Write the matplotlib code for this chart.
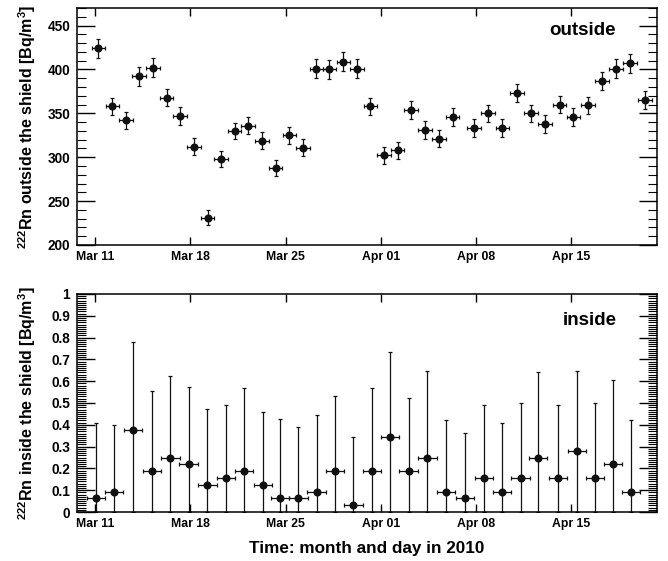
import numpy as np
import matplotlib
matplotlib.use("Agg")
import matplotlib.pyplot as plt
import matplotlib.dates as mdates
from matplotlib.ticker import MultipleLocator, FuncFormatter
from datetime import datetime

plt.rcParams['font.family'] = ['Liberation Sans', 'DejaVu Sans']
plt.rcParams['font.weight'] = 'bold'
plt.rcParams['mathtext.fontset'] = 'custom'
plt.rcParams['mathtext.rm'] = 'Liberation Sans:bold'
plt.rcParams['mathtext.bf'] = 'Liberation Sans:bold'
plt.rcParams['mathtext.default'] = 'bf'

# ---------------- data ----------------
# outside the shield: measurement times (days after Mar 11 2010, 00:00)
out_days = [0.24, 1.27, 2.25, 3.22, 4.25, 5.25, 6.24, 7.27, 8.27, 9.27,
            10.25, 11.25, 12.25, 13.27, 14.28, 15.28, 16.27, 17.22, 18.25, 19.23,
            20.23, 21.23, 22.23, 23.23, 24.23, 25.26, 26.28, 27.84, 28.87, 29.94,
            30.99, 32.06, 33.07, 34.14, 35.16, 36.22, 37.24, 38.29, 39.31, 40.41]
out_vals = [424, 358, 342, 392, 402, 368, 347, 312, 231, 298,
            330, 336, 319, 288, 325, 311, 401, 400, 409, 401,
            358, 302, 308, 354, 331, 321, 346, 333, 350, 333,
            373, 350, 338, 360, 346, 359, 387, 401, 407, 365]
out_errs = [11, 10, 10, 10.5, 10.5, 10, 10, 9.5, 8.5, 9.5,
            9.5, 10, 9.5, 9, 9.5, 9.5, 10.5, 10.5, 11, 10.5,
            10, 9.5, 9.5, 10, 10, 9.5, 10, 10, 10, 10,
            10, 10, 10, 10, 10, 10, 10.5, 10.5, 11, 10]
out_xerr = 0.5

# inside the shield
in_days = [0.05, 1.40, 2.80, 4.18, 5.53, 6.88, 8.25, 9.61, 10.96, 12.34,
           13.59, 14.94, 16.29, 17.64, 18.99, 20.34, 21.69, 23.04, 24.42, 25.79,
           27.19, 28.57, 29.92, 31.27, 32.57, 34.04, 35.42, 36.73, 38.05, 39.40]
in_vals = [0.0625, 0.094, 0.375, 0.1875, 0.25, 0.219, 0.125, 0.156, 0.1875, 0.125,
           0.0625, 0.0625, 0.094, 0.1875, 0.031, 0.1875, 0.344, 0.1875, 0.25, 0.094,
           0.0625, 0.156, 0.094, 0.156, 0.25, 0.156, 0.281, 0.156, 0.219, 0.094]
in_upper = [0.408, 0.397, 0.780, 0.557, 0.624, 0.575, 0.473, 0.490, 0.568, 0.461,
            0.426, 0.388, 0.444, 0.533, 0.346, 0.568, 0.733, 0.522, 0.646, 0.420,
            0.362, 0.493, 0.408, 0.502, 0.640, 0.493, 0.647, 0.502, 0.607, 0.421]
in_xerr = 0.68

tick_dates = ["2010-03-11", "2010-03-18", "2010-03-25", "2010-04-01", "2010-04-08", "2010-04-15"]
tick_labels = ["Mar 11", "Mar 18", "Mar 25", "Apr 01", "Apr 08", "Apr 15"]

# ---------------- plotting ----------------
base = mdates.date2num(datetime(2010, 3, 11))
ticks = [mdates.date2num(datetime.strptime(d, "%Y-%m-%d")) for d in tick_dates]
xlim = (base - 1.33, base + 41.3)

fig = plt.figure(figsize=(6.68, 5.61), dpi=100)
ax1 = fig.add_axes([77/668, 1-245/561, 580/668, 237/561])
ax2 = fig.add_axes([77/668, 1-512/561, 580/668, 218/561])

col = '#111111'
ekw = dict(fmt='o', color=col, ms=4.8, elinewidth=0.9, capsize=1.3, capthick=0.9)

ax1.errorbar(base + np.array(out_days), out_vals, xerr=out_xerr, yerr=out_errs, **ekw)

iv = np.array(in_vals)
iu = np.array(in_upper)
ax2.errorbar(base + np.array(in_days), iv, xerr=in_xerr,
             yerr=[iv, iu - iv], **ekw)

ax1.set_ylim(200, 470)
ax2.set_ylim(0, 1)
ax1.yaxis.set_major_locator(MultipleLocator(50))
ax1.yaxis.set_minor_locator(MultipleLocator(10))
ax2.yaxis.set_major_locator(MultipleLocator(0.1))
ax2.yaxis.set_minor_locator(MultipleLocator(0.01))
ax2.yaxis.set_major_formatter(FuncFormatter(lambda v, p: f"{v:g}"))

for ax in (ax1, ax2):
    ax.set_xlim(*xlim)
    ax.set_xticks(ticks)
    ax.set_xticklabels(tick_labels)
    ax.tick_params(axis='x', which='major', direction='in', top=True, bottom=True,
                   length=6, width=1.0, labelsize=8.8, pad=4)
    ax.tick_params(axis='y', which='major', direction='in', left=True, right=True,
                   length=13, width=1.0, labelsize=9.8, pad=5)
    ax.tick_params(axis='y', which='minor', direction='in', left=True, right=True,
                   length=6.5, width=0.8)
    for s in ax.spines.values():
        s.set_linewidth(1.1)
    for lab in ax.get_xticklabels() + ax.get_yticklabels():
        lab.set_fontweight('bold')

ax1.text(0.929, 0.903, "outside", transform=ax1.transAxes, ha='right', va='center',
         fontsize=13.5, fontweight='bold')
ax2.text(0.931, 0.877, "inside", transform=ax2.transAxes, ha='right', va='center',
         fontsize=13.5, fontweight='bold')

ax1.set_ylabel(r"$^{222}$Rn outside the shield [Bq/m$^{3}$]", fontsize=11.5, fontweight='bold')
ax2.set_ylabel(r"$^{222}$Rn inside the shield [Bq/m$^{3}$]", fontsize=11.5, fontweight='bold')
ax1.yaxis.set_label_coords(-0.068, 0.5)
ax2.yaxis.set_label_coords(-0.068, 0.5)

fig.text(367/668, 1-548/561, "Time: month and day in 2010", ha='center', va='center',
         fontsize=12.3, fontweight='bold')

fig.savefig("out.png", dpi=100)
